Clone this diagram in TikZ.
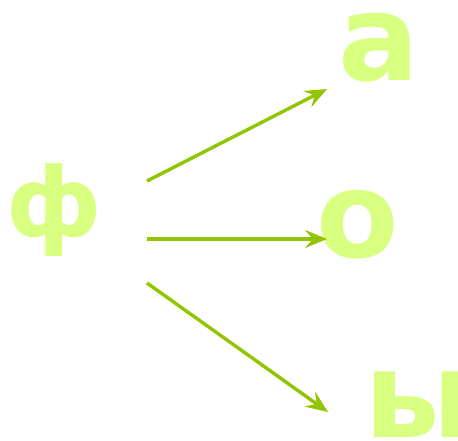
\documentclass[tikz,border=0pt]{standalone}
\usepackage{fontspec}
\setmainfont{DejaVu Sans}
\usetikzlibrary{arrows.meta}
\definecolor{letter}{HTML}{D9FF80}
\definecolor{arrowc}{HTML}{92C400}
\tikzset{
  glyph/.style={text=letter, inner sep=0pt, anchor=base, font=\bfseries\fontsize{#1}{#1}\selectfont},
  link/.style={draw=arrowc, line width=3.4pt, -{Stealth[length=22pt,width=18pt,inset=8pt]}}
}
\begin{document}
\begin{tikzpicture}[x=1pt,y=-1pt]
\useasboundingbox (0,0) rectangle (458,440);
\node[glyph=96] (f) at (54,236) {ф};
\node[glyph=120] (a) at (379,80) {а};
\node[glyph=120] (o) at (358,257) {о};
\node[glyph=120] (y) at (419,437) {ы};
\coordinate (s1) at (147,181);
\coordinate (s2) at (147,239);
\coordinate (s3) at (147,283);
\coordinate (e1) at (327,89);
\coordinate (e2) at (327,239);
\coordinate (e3) at (328,412);
\draw[link] (s1) -- (e1);
\draw[link] (s2) -- (e2);
\draw[link] (s3) -- (e3);
\end{tikzpicture}
\end{document}
